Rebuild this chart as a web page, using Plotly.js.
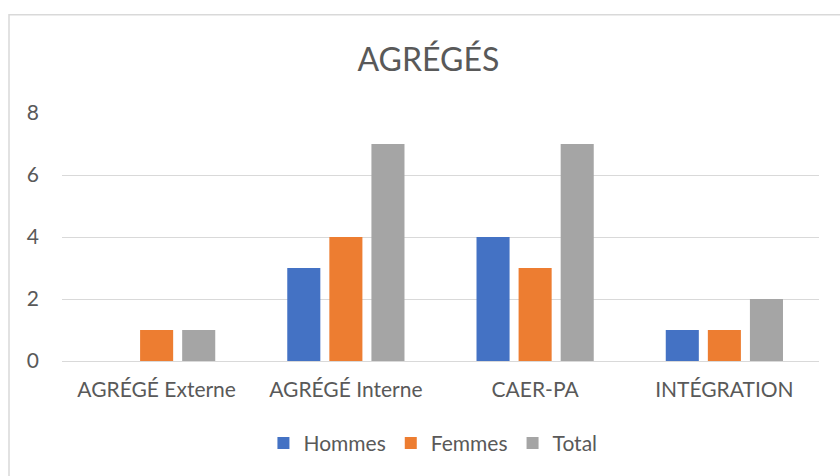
<!DOCTYPE html>
<html>
<head>
<meta charset="utf-8">
<script src="https://cdn.plot.ly/plotly-3.0.1.min.js"></script>
<style>
html,body{margin:0;padding:0;background:#fff;}
#chart{width:840px;height:476px;}
</style>
</head>
<body>
<div id="chart"></div>
<script>
const categories = ["AGRÉGÉ Externe", "AGRÉGÉ Interne", "CAER-PA", "INTÉGRATION"];
const hommes = [0, 3, 4, 1];
const femmes = [1, 4, 3, 1];
const total = [1, 7, 7, 2];
const seriesNames = ["Hommes", "Femmes", "Total"];
const colors = ["#4472C4", "#ED7D31", "#A5A5A5"];
const yTicks = [0, 2, 4, 6, 8];

const FONT = "Lato, Open Sans, sans-serif";
const series = [hommes, femmes, total];
const data = series.map((vals, i) => ({
  type: "bar",
  x: categories,
  y: vals,
  name: seriesNames[i],
  marker: {color: colors[i]},
  hoverinfo: "x+y+name"
}));

const layout = {
  width: 840,
  height: 476,
  margin: {l: 62, r: 21, t: 113, b: 113},
  paper_bgcolor: "#ffffff",
  plot_bgcolor: "#ffffff",
  font: {family: FONT, color: "#595959", size: 21},
  title: {
    text: "AGRÉGÉS",
    font: {family: FONT, size: 32, color: "#595959"},
    x: 0.51, xanchor: "center",
    y: 0.874, yanchor: "middle"
  },
  barmode: "group",
  bargap: 0.333,
  bargroupgap: 0.214,
  xaxis: {
    type: "category",
    automargin: false,
    showgrid: false,
    showline: true,
    linecolor: "#D9D9D9",
    linewidth: 1,
    ticks: "",
    ticklabelstandoff: 10,
    tickfont: {family: FONT, size: 21, color: "#595959"},
    fixedrange: true
  },
  yaxis: {
    range: [0, 8],
    automargin: false,
    tickvals: yTicks,
    ticktext: yTicks.map(String),
    showgrid: true,
    gridcolor: "#D9D9D9",
    gridwidth: 1,
    zeroline: false,
    showline: false,
    ticks: "",
    ticklabelstandoff: 22,
    tickfont: {family: FONT, size: 21, color: "#595959"},
    fixedrange: true
  },
  showlegend: true,
  legend: {
    orientation: "h",
    x: 0.49, xanchor: "center",
    y: -0.332, yanchor: "middle",
    font: {family: FONT, size: 21, color: "#595959"},
    itemwidth: 30,
    traceorder: "normal"
  },
  shapes: [{
    type: "rect",
    xref: "paper", yref: "paper",
    x0: -0.07, x1: 1.05, y0: -0.5, y1: 1.396,
    line: {color: "#D9D9D9", width: 1.5},
    fillcolor: "rgba(0,0,0,0)",
    layer: "below"
  }]
};

Plotly.newPlot("chart", data, layout, {displayModeBar: false, staticPlot: true});
</script>
</body>
</html>
